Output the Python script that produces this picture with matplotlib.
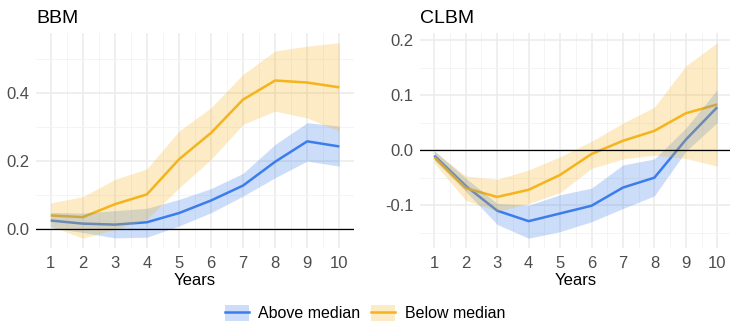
import numpy as np
import matplotlib
matplotlib.use("Agg")
import matplotlib.pyplot as plt
from matplotlib.lines import Line2D
from matplotlib.patches import Patch
from matplotlib.ticker import MultipleLocator, FormatStrFormatter

plt.rcParams["font.family"] = ["Liberation Sans", "DejaVu Sans"]
plt.rcParams["axes.unicode_minus"] = False

# ---- data ----
years = np.arange(1, 11)

# BBM
bbm_above = [0.026, 0.017, 0.014, 0.021, 0.048, 0.085, 0.129, 0.199, 0.259, 0.244]
bbm_above_lo = [0.005, -0.009, -0.025, -0.023, 0.010, 0.049, 0.098, 0.152, 0.201, 0.186]
bbm_above_hi = [0.050, 0.048, 0.055, 0.062, 0.088, 0.120, 0.165, 0.250, 0.314, 0.304]
bbm_below = [0.041, 0.036, 0.074, 0.103, 0.206, 0.284, 0.382, 0.438, 0.432, 0.418]
bbm_below_lo = [0.010, -0.026, 0.000, 0.030, 0.122, 0.206, 0.309, 0.348, 0.328, 0.289]
bbm_below_hi = [0.078, 0.096, 0.147, 0.178, 0.289, 0.358, 0.456, 0.525, 0.539, 0.549]

# CLBM
clbm_above = [-0.010, -0.065, -0.110, -0.129, -0.115, -0.101, -0.068, -0.050, 0.019, 0.078]
clbm_above_lo = [-0.018, -0.075, -0.135, -0.160, -0.148, -0.130, -0.106, -0.083, -0.002, 0.050]
clbm_above_hi = [-0.001, -0.051, -0.097, -0.100, -0.081, -0.069, -0.027, -0.016, 0.040, 0.110]
clbm_below = [-0.013, -0.069, -0.085, -0.072, -0.045, -0.007, 0.017, 0.035, 0.067, 0.083]
clbm_below_lo = [-0.024, -0.091, -0.111, -0.097, -0.077, -0.033, -0.016, -0.009, -0.015, -0.029]
clbm_below_hi = [-0.002, -0.047, -0.053, -0.036, -0.012, 0.016, 0.049, 0.078, 0.153, 0.195]

labels = ["Above median", "Below median"]
c_above = "#3B7DEC"
c_below = "#F5B31C"
band_alpha = 0.26
line_w = 1.8

W, H = 730, 322
fig = plt.figure(figsize=(W / 100, H / 100), dpi=100)


def px_axes(x0, x1, y0, y1):
    return fig.add_axes([x0 / W, 1 - y1 / H, (x1 - x0) / W, (y1 - y0) / H])


def panel(ax, title, series, ymajor):
    for (mid, lo, hi), col in series:
        ax.plot(years, mid, color=col, lw=line_w, zorder=3, solid_capstyle="butt")
    for (mid, lo, hi), col in series:
        ax.fill_between(years, lo, hi, color=col, alpha=band_alpha, lw=0, zorder=4)
    ax.axhline(0, color="black", lw=0.9, zorder=5)

    lows = np.concatenate([s[0][1] for s in series])
    highs = np.concatenate([s[0][2] for s in series])
    span = highs.max() - lows.min()
    ax.set_ylim(lows.min() - 0.05 * span, highs.max() + 0.05 * span)
    ax.set_xlim(0.55, 10.45)

    ax.xaxis.set_major_locator(MultipleLocator(1))
    ax.xaxis.set_minor_locator(MultipleLocator(0.5))
    ax.yaxis.set_major_locator(MultipleLocator(ymajor))
    ax.yaxis.set_minor_locator(MultipleLocator(ymajor / 2))
    ax.yaxis.set_major_formatter(FormatStrFormatter("%.1f"))
    ax.grid(which="major", color="#EBEBEB", lw=1.1, zorder=0)
    ax.grid(which="minor", color="#F2F2F2", lw=0.6, zorder=0)
    ax.set_axisbelow(True)
    for s in ax.spines.values():
        s.set_visible(False)
    ax.tick_params(which="both", length=0, labelsize=12, labelcolor="#4D4D4D")
    ax.tick_params(axis="y", pad=5)
    ax.tick_params(axis="x", pad=5.5)
    ax.set_xlabel("Years", fontsize=12, labelpad=1.5)
    ax.set_title(title, loc="left", fontsize=14, pad=7.5)


ax1 = px_axes(36.3, 353.7, 33, 248)
panel(ax1, "BBM", [((bbm_above, bbm_above_lo, bbm_above_hi), c_above),
                   ((bbm_below, bbm_below_lo, bbm_below_hi), c_below)], 0.2)

ax2 = px_axes(420.2, 731.4, 33, 248)
panel(ax2, "CLBM", [((clbm_above, clbm_above_lo, clbm_above_hi), c_above),
                    ((clbm_below, clbm_below_lo, clbm_below_hi), c_below)], 0.1)

handles = [(Patch(facecolor=c, alpha=band_alpha, lw=0), Line2D([], [], color=c, lw=line_w))
           for c in (c_above, c_below)]
fig.legend(handles, labels, loc="center", bbox_to_anchor=(365 / W, 1 - 313 / H),
           ncol=2, frameon=False, fontsize=11.5, handlelength=1.5, handleheight=1.2,
           columnspacing=0.7, handletextpad=0.6)

fig.savefig("out.png", dpi=100)
